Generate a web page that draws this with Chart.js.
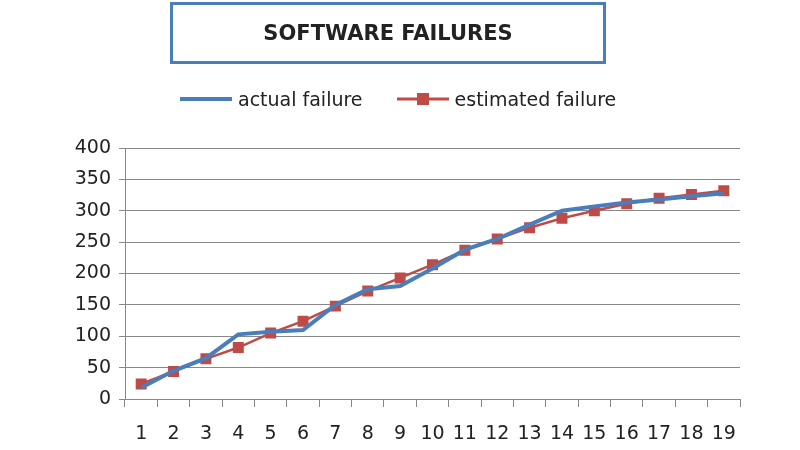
<!DOCTYPE html>
<html><head><meta charset="utf-8">
<script src="https://cdn.jsdelivr.net/npm/chart.js@4"></script>
<style>
  body { margin:0; background:#fff; font-family:"DejaVu Sans",sans-serif; }
  #wrap { position:relative; width:800px; height:450px; }
  #title { position:absolute; left:170px; top:2px; width:430px; height:56px; border:3px solid #4a7ebb;
    text-align:center; line-height:56px; font-weight:bold; font-size:21px; color:#222; }
  #legend { position:absolute; top:88px; left:180px; font-size:19px; color:#222; display:flex; gap:34px; align-items:center; }
  #legend span { display:inline-flex; align-items:center; gap:6px; }
  canvas { position:absolute; left:0; top:0; }
</style></head>
<body>
<div id="wrap">
  <canvas id="c" width="800" height="450"></canvas>
  <div id="title">SOFTWARE FAILURES</div>
  <div id="legend">
    <span><svg width="52" height="10"><line x1="0" y1="5" x2="52" y2="5" stroke="#4a7ebb" stroke-width="4"/></svg>actual failure</span>
    <span><svg width="52" height="14"><line x1="0" y1="7" x2="52" y2="7" stroke="#be4b48" stroke-width="3"/><rect x="20" y="1" width="12" height="12" fill="#be4b48"/></svg>estimated failure</span>
  </div>
</div>
<script>
'use strict';

const labels = ['1','2','3','4','5','6','7','8','9','10','11','12','13','14','15','16','17','18','19'];
const actualFailure = [18, 45, 65, 103, 107, 110, 150, 175, 180, 208, 238, 255, 278, 300, 307, 313, 318, 323, 328];
const estimatedFailure = [24, 44, 64, 82, 105, 124, 148, 172, 193, 214, 237, 255, 273, 288, 300, 311, 320, 326, 332];

new Chart(document.getElementById('c'), {
  type: 'line',
  data: {
    labels,
    datasets: [
      { label: 'actual failure', data: actualFailure, borderColor: '#4a7ebb', borderWidth: 4,
        pointRadius: 0, tension: 0 },
      { label: 'estimated failure', data: estimatedFailure, borderColor: '#be4b48', backgroundColor: '#be4b48',
        borderWidth: 2.5, pointStyle: 'rect', pointRadius: 6, tension: 0 },
    ],
  },
  options: {
    responsive: false,
    animation: false,
    layout: { padding: { top: 148, right: 60, left: 0, bottom: 0 } },
    plugins: { legend: { display: false }, tooltip: { enabled: false } },
    scales: {
      x: {
        offset: true,
        grid: { offset: true, drawOnChartArea: false, color: '#888', tickLength: 8 },
        border: { color: '#888' },
        ticks: { color: '#222', font: { size: 19, family: 'DejaVu Sans' }, padding: 16, maxRotation: 0, autoSkip: false },
        afterFit(s) { s.height = 51; },
      },
      y: {
        min: 0, max: 400,
        ticks: { stepSize: 50, color: '#222', font: { size: 19, family: 'DejaVu Sans' }, padding: 8 },
        grid: { color: '#888', tickLength: 6 },
        border: { color: '#888' },
        afterFit(s) { s.width = 125; },
      },
    },
  },
});
</script>
</body></html>
